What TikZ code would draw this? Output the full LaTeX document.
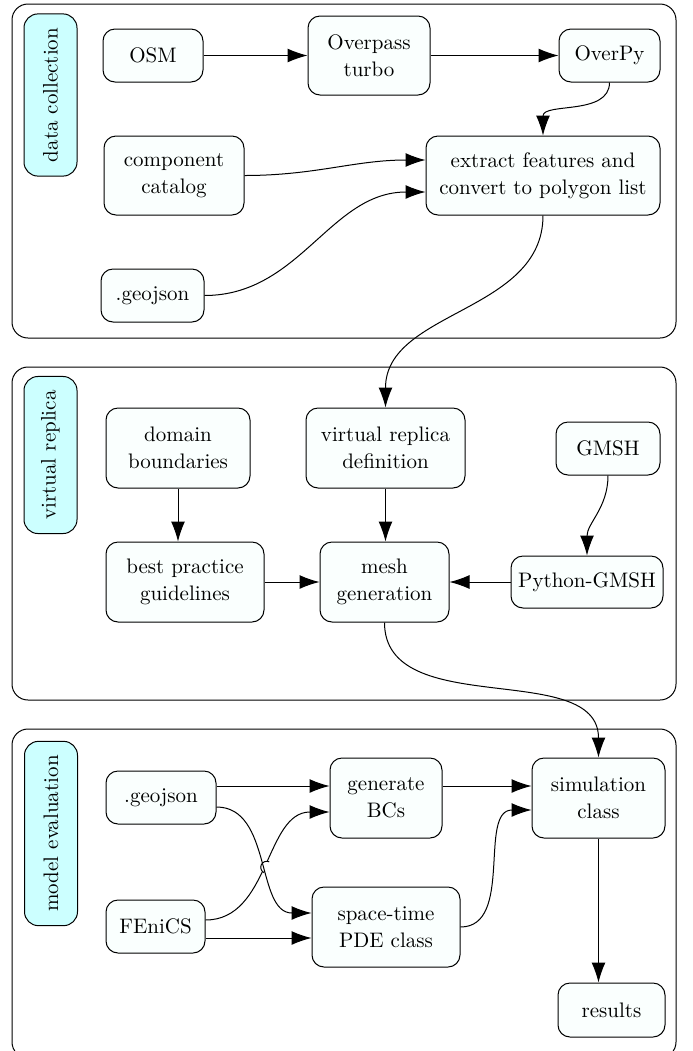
\documentclass[tikz,border=0pt]{standalone}
\usetikzlibrary{arrows.meta,positioning,intersections}
\definecolor{tagfill}{RGB}{204,255,255}
\definecolor{boxfill}{RGB}{250,255,254}
\tikzset{
  block/.style={draw, rounded corners=6pt, fill=boxfill, align=center, inner sep=2pt,
    font=\fontsize{10.5}{13.5}\selectfont},
  tag/.style={draw, rounded corners=7pt, fill=tagfill, rotate=90, inner xsep=7pt,
    minimum height=26.5pt, font=\fontsize{10.5}{13.5}\selectfont},
  stage/.style={draw, rounded corners=8pt},
  arr/.style={-{Latex[length=10pt,width=7pt]}},
}

\begin{document}
\begin{tikzpicture}[x=0.5pt, y=-0.5pt, line width=0.5pt]
  \useasboundingbox (0,0) rectangle (692,1051);
  \clip (0,0) rectangle (692,1051);
  %Stages
  \draw[stage] (12,4) rectangle (676,338);
  \draw[stage] (12,367) rectangle (676,700);
  \draw[stage] (12,729) rectangle (676,1058);
  \node[tag] (t1) at (50.5,95) {data collection};
  \node[tag] (t2) at (50.5,455) {virtual replica};
  \node[tag] (t3) at (51,833.5) {model evaluation};
  %Data collection
  \node[block, minimum width=50pt, minimum height=26.5pt] (osm) at (153,55.5) {OSM};
  \node[block, minimum width=61pt, minimum height=39.5pt] (overpass) at (369,55.5) {Overpass\\turbo};
  \node[block, minimum width=50.5pt, minimum height=26.5pt] (overpy) at (609.5,55.5) {OverPy};
  \node[block, minimum width=70pt, minimum height=39.5pt] (catalog) at (174,175.5) {component\\catalog};
  \node[block, minimum width=117pt, minimum height=39.5pt] (extract) at (543,175.5) {extract features and\\convert to polygon list};
  \node[block, minimum width=51.5pt, minimum height=26.5pt] (geo1) at (152.5,295.5) {.geojson};
  %Virtual replica
  \node[block, minimum width=72pt, minimum height=40pt] (domain) at (178,448) {domain\\boundaries};
  \node[block, minimum width=79.5pt, minimum height=40pt] (virtual) at (385.5,448) {virtual replica\\definition};
  \node[block, minimum width=52pt, minimum height=26.5pt] (gmsh) at (608,448.5) {GMSH};
  \node[block, minimum width=79pt, minimum height=40pt] (best) at (185,582) {best practice\\guidelines};
  \node[block, minimum width=64.5pt, minimum height=40pt] (mesh) at (384.5,582) {mesh\\generation};
  \node[block, minimum width=76pt, minimum height=26pt] (python) at (587,582) {Python-GMSH};
  %Model evaluation
  \node[block, minimum width=55pt, minimum height=26.5pt] (geo2) at (161,797.5) {.geojson};
  \node[block, minimum width=49.5pt, minimum height=26.5pt] (fenics) at (155.5,926.5) {FEniCS};
  \node[block, minimum width=56pt, minimum height=40pt] (bcs) at (386,798) {generate\\BCs};
  \node[block, minimum width=74pt, minimum height=40pt] (pde) at (386,927) {space-time\\PDE class};
  \node[block, minimum width=66.5pt, minimum height=40pt] (sim) at (598.5,798) {simulation\\class};
  \node[block, minimum width=53.5pt, minimum height=27pt] (results) at (611.5,1010) {results};
  %Ports
  \coordinate (ex1) at ([yshift=7.75pt]extract.west);
  \coordinate (ex2) at ([yshift=-8.25pt]extract.west);
  \coordinate (g2a) at ([yshift=5.75pt]geo2.east);
  \coordinate (g2b) at ([yshift=-4.75pt]geo2.east);
  \coordinate (fea) at ([yshift=3.25pt]fenics.east);
  \coordinate (feb) at ([yshift=-5.75pt]fenics.east);
  \coordinate (bcb) at ([yshift=-7pt]bcs.west);
  \coordinate (pda) at ([yshift=7pt]pde.west);
  \coordinate (sma) at ([yshift=6pt]sim.west);
  \coordinate (smb) at ([yshift=-6pt]sim.west);
  %Arrows
  \draw[arr] (osm) -- (overpass);
  \draw[arr] (overpass) -- (overpy);
  \draw[arr] (overpy.south) to[out=-90, in=90] (extract.north);
  \draw[arr] (catalog.east) to[out=0, in=180] (ex1);
  \draw[arr] (geo1.east) to[out=0, in=180] (ex2);
  \draw[arr] (extract.south) to[out=-90, in=90] (virtual.north);
  \draw[arr] (domain.south) -- (domain.south |- best.north);
  \draw[arr] (virtual.south) -- (virtual.south |- mesh.north);
  \draw[arr] (gmsh.south) to[out=-90, in=90] (python.north);
  \draw[arr] (best) -- (mesh);
  \draw[arr] (python) -- (mesh);
  \draw[arr] (mesh.south) to[out=-90, in=90] (sim.north);
  \draw[arr] (g2a) -- (g2a -| bcs.west);
  \draw[arr, name path=fe] (fea) to[out=0, in=180] (bcb);
  \path[name path=gj] (g2b) to[out=0, in=180] (pda);
  \path[name intersections={of=fe and gj, by=hop}];
  \fill[white] (hop) circle[radius=3pt];
  \draw[arr] (g2b) to[out=0, in=180] (pda);
  \draw ([shift={(245:3pt)}]hop) arc[start angle=245, end angle=65, radius=3pt];
  \draw[arr] (feb) -- (feb -| pde.west);
  \draw[arr] (bcs.east |- sma) -- (sma);
  \draw[arr] (pde.east) to[out=0, in=180] (smb);
  \draw[arr] (sim.south) -- (sim.south |- results.north);
\end{tikzpicture}
\end{document}
